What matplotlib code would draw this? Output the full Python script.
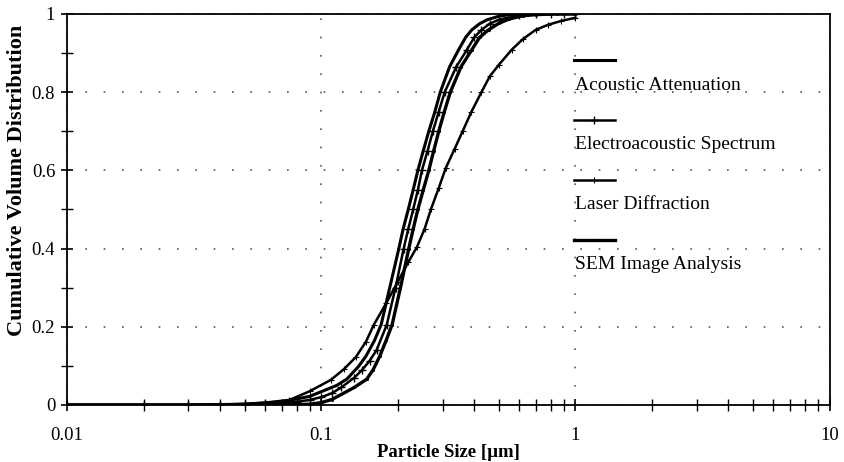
import matplotlib
matplotlib.use('Agg')
import matplotlib.pyplot as plt
from matplotlib.ticker import LogLocator, MultipleLocator, FixedLocator, NullFormatter

plt.rcParams['font.family'] = ['Liberation Serif', 'DejaVu Serif']

# values
aa_x = [0.01, 0.03, 0.05, 0.07, 0.09, 0.10, 0.115, 0.126, 0.14, 0.15, 0.162, 0.172, 0.186,
        0.202, 0.21, 0.22, 0.23, 0.240, 0.252, 0.265, 0.28, 0.294, 0.32, 0.347, 0.37, 0.391,
        0.42, 0.45, 0.50, 0.55, 0.65, 0.8, 1.0]
aa_y = [0.0, 0.0, 0.002, 0.008, 0.022, 0.034, 0.05, 0.066, 0.098, 0.125, 0.165, 0.205, 0.30,
        0.40, 0.45, 0.50, 0.55, 0.60, 0.65, 0.70, 0.75, 0.80, 0.865, 0.908, 0.94, 0.959,
        0.975, 0.985, 0.994, 0.998, 1.0, 1.0, 1.0]

ea_x = [0.01, 0.02, 0.03, 0.04, 0.05, 0.06, 0.07, 0.08, 0.09, 0.10, 0.11, 0.12, 0.135, 0.145,
        0.155, 0.165, 0.181, 0.196, 0.211, 0.22, 0.23, 0.24, 0.249, 0.262, 0.275, 0.29, 0.306,
        0.34, 0.374, 0.40, 0.427, 0.46, 0.5, 0.6, 0.7, 0.8, 0.9, 1.0]
ea_y = [0.0, 0.0, 0.0, 0.0, 0.001, 0.002, 0.004, 0.008, 0.013, 0.02, 0.03, 0.045, 0.07, 0.09,
        0.113, 0.14, 0.205, 0.30, 0.40, 0.45, 0.50, 0.55, 0.60, 0.65, 0.70, 0.75, 0.80,
        0.865, 0.908, 0.94, 0.959, 0.975, 0.985, 0.997, 1.0, 1.0, 1.0, 1.0]

ld_x = [0.01, 0.02, 0.03, 0.04, 0.05, 0.06, 0.075, 0.09, 0.109, 0.123, 0.137, 0.15, 0.161,
        0.18, 0.20, 0.22, 0.238, 0.255, 0.27, 0.29, 0.309, 0.335, 0.36, 0.39, 0.427, 0.46,
        0.50, 0.561, 0.62, 0.697, 0.78, 0.88, 1.0]
ld_y = [0.0, 0.0, 0.0, 0.001, 0.003, 0.006, 0.013, 0.035, 0.064, 0.092, 0.123, 0.162, 0.205,
        0.26, 0.315, 0.365, 0.404, 0.45, 0.50, 0.555, 0.606, 0.655, 0.70, 0.75, 0.80, 0.84,
        0.87, 0.908, 0.935, 0.959, 0.972, 0.982, 0.99]

sem_x = [0.01, 0.03, 0.05, 0.07, 0.09, 0.10, 0.11, 0.12, 0.135, 0.151, 0.16, 0.17, 0.18, 0.19,
         0.205, 0.221, 0.23, 0.24, 0.252, 0.265, 0.277, 0.29, 0.305, 0.322, 0.355, 0.391,
         0.42, 0.455, 0.50, 0.55, 0.62, 0.7, 0.85, 1.0]
sem_y = [0.0, 0.0, 0.0, 0.0, 0.002, 0.006, 0.014, 0.027, 0.045, 0.066, 0.09, 0.125, 0.165,
         0.205, 0.30, 0.40, 0.45, 0.50, 0.55, 0.60, 0.65, 0.70, 0.75, 0.80, 0.865, 0.908,
         0.94, 0.959, 0.976, 0.987, 0.995, 0.998, 1.0, 1.0]

labels = ['Acoustic Attenuation', 'Electroacoustic Spectrum', 'Laser Diffraction',
          'SEM Image Analysis']
x_ticks = [0.01, 0.1, 1, 10]
x_ticklabels = ['0.01', '0.1', '1', '10']
y_ticks = [0, 0.2, 0.4, 0.6, 0.8, 1.0]
y_ticklabels = ['0', '0.2', '0.4', '0.6', '0.8', '1']

styles = [dict(lw=2.2),
          dict(lw=1.8, marker='+', ms=6, mew=1.0),
          dict(lw=1.8, marker='+', ms=4, mew=0.8),
          dict(lw=2.4, marker='.', ms=2.5)]

fig = plt.figure(figsize=(8.44, 4.62), dpi=100)
ax = fig.add_axes([0.0794, 0.1234, 0.9036, 0.8466])

for xs, ys, st in zip([aa_x, ea_x, ld_x, sem_x], [aa_y, ea_y, ld_y, sem_y], styles):
    ax.plot(xs, ys, color='black', **st)

ax.set_xscale('log')
ax.set_xlim(0.01, 10)
ax.set_ylim(0, 1)

ax.xaxis.set_major_locator(FixedLocator(x_ticks))
ax.xaxis.set_minor_locator(LogLocator(base=10, subs=range(2, 10)))
ax.xaxis.set_minor_formatter(NullFormatter())
ax.set_xticklabels(x_ticklabels)
ax.yaxis.set_major_locator(FixedLocator(y_ticks))
ax.yaxis.set_minor_locator(MultipleLocator(0.1))
ax.set_yticklabels(y_ticklabels)

ax.tick_params(which='major', direction='inout', length=9, width=1.2, labelsize=13.5)
ax.tick_params(which='minor', direction='inout', length=8, width=1.0)
ax.tick_params(axis='x', which='major', pad=11)
ax.tick_params(axis='y', which='major', pad=4)

for s in ax.spines.values():
    s.set_linewidth(1.3)

ax.grid(True, which='major', color='#555555', linestyle=(0, (1, 10)), lw=1.2)

ax.set_xlabel('Particle Size [µm]', fontsize=13.5, fontweight='bold', labelpad=0)
ax.set_ylabel('Cumulative Volume Distribution', fontsize=16, fontweight='bold')
ax.yaxis.set_label_coords(-0.053, 0.573)

# Excel-style legend: sample line above each label
for i, (lab, st) in enumerate(zip(labels, styles)):
    y0 = 0.882 - i * 0.153
    ax.plot([0.665, 0.6915, 0.718], [y0, y0, y0], transform=ax.transAxes, color='black',
            markevery=[1], clip_on=False, **st)
    ax.text(0.666, y0 - 0.064, lab, transform=ax.transAxes, fontsize=14,
            va='center', ha='left')

fig.savefig('out.png', dpi=100)
